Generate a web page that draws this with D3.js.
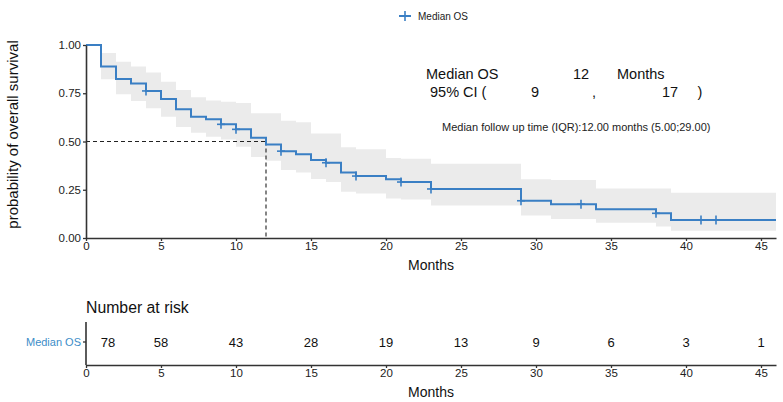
<!DOCTYPE html>
<html>
<head>
<meta charset="utf-8">
<script src="https://cdn.jsdelivr.net/npm/d3@7"></script>
<style>
  html, body { margin: 0; padding: 0; background: #fff; }
  svg { display: block; font-family: "Liberation Sans", Arial, Helvetica, sans-serif; }
</style>
</head>
<body>
<svg id="chart" width="783" height="402"></svg>
<script>
// ---- data ----
const stepTimes = [0, 1, 2, 3, 4, 5, 6, 7, 8, 9, 10, 11, 12, 13, 14, 15, 16, 17, 18, 20, 21, 23, 29, 31, 34, 38, 39];
const survival  = [1, 0.888, 0.824, 0.80, 0.762, 0.72, 0.667, 0.628, 0.615, 0.589, 0.563, 0.52, 0.485, 0.45, 0.434, 0.404, 0.39, 0.34, 0.321, 0.304, 0.29, 0.254, 0.193, 0.175, 0.149, 0.128, 0.093];
const upperCI   = [1, 0.958, 0.913, 0.888, 0.858, 0.81, 0.767, 0.729, 0.712, 0.706, 0.70, 0.646, 0.646, 0.608, 0.60, 0.542, 0.542, 0.47, 0.46, 0.415, 0.41, 0.385, 0.304, 0.30, 0.257, 0.257, 0.235];
const lowerCI   = [1, 0.822, 0.745, 0.71, 0.672, 0.628, 0.575, 0.545, 0.525, 0.51, 0.473, 0.42, 0.40, 0.352, 0.34, 0.306, 0.29, 0.24, 0.23, 0.205, 0.20, 0.168, 0.116, 0.098, 0.079, 0.059, 0.038];
const endTime = 46;
const censorTimes = [4, 9, 10, 13, 16, 18, 21, 23, 29, 33, 38, 41, 42];
const medianTime = 12;
const xTicks = [0, 5, 10, 15, 20, 25, 30, 35, 40, 45];
const yTicks = [0, 0.25, 0.5, 0.75, 1];
const riskTimes = [0, 5, 10, 15, 20, 25, 30, 35, 40, 45];
const riskCounts = [78, 58, 43, 28, 19, 13, 9, 6, 3, 1];
const seriesName = "Median OS";

// ---- layout ----
const svg = d3.select("#chart");
const blue = "#3a7fc4";
const axisCol = "#333";
const x = d3.scaleLinear().domain([0, endTime]).range([86, 776]);
const y = d3.scaleLinear().domain([0, 1]).range([238, 45]);

const pts = stepTimes.map((t, i) => ({t, s: survival[i], u: upperCI[i], l: lowerCI[i]}));
pts.push({t: endTime, s: survival[survival.length-1], u: upperCI[upperCI.length-1], l: lowerCI[lowerCI.length-1]});

// CI band
const area = d3.area().curve(d3.curveStepAfter)
  .x(d => x(d.t)).y0(d => y(d.l)).y1(d => y(d.u));
svg.append("path").datum(pts).attr("d", area).attr("fill", "#ebebeb");

// dashed median lines
svg.append("line").attr("x1", x(0)).attr("x2", x(medianTime)).attr("y1", y(0.5)).attr("y2", y(0.5))
  .attr("stroke", "#222").attr("stroke-width", 1.1).attr("stroke-dasharray", "4,3");
svg.append("line").attr("x1", x(medianTime)).attr("x2", x(medianTime)).attr("y1", y(0.5)).attr("y2", y(0))
  .attr("stroke", "#222").attr("stroke-width", 1.1).attr("stroke-dasharray", "4,3");

// survival curve
const line = d3.line().curve(d3.curveStepAfter).x(d => x(d.t)).y(d => y(d.s));
svg.append("path").datum(pts).attr("d", line).attr("fill", "none")
  .attr("stroke", blue).attr("stroke-width", 2);

// censor marks
function survAt(t) {
  let s = 1;
  for (let i = 0; i < stepTimes.length; i++) if (stepTimes[i] <= t) s = survival[i];
  return s;
}
const cg = svg.append("g").attr("stroke", blue).attr("stroke-width", 1.6);
censorTimes.forEach(t => {
  const cx = x(t), cy = y(survAt(t));
  cg.append("line").attr("x1", cx - 4).attr("x2", cx + 4).attr("y1", cy).attr("y2", cy);
  cg.append("line").attr("x1", cx).attr("x2", cx).attr("y1", cy - 4.5).attr("y2", cy + 4.5);
});

// axes
function styleAxis(g) {
  g.selectAll("path, line").attr("stroke", axisCol).attr("stroke-width", 1.3);
  g.select(".domain").attr("stroke-width", 1.6);
  g.selectAll("text").attr("fill", "#222").style("font-size", "11.5px");
}
const yAxis = svg.append("g").attr("transform", `translate(${x(0)},0)`)
  .call(d3.axisLeft(y).tickValues(yTicks).tickFormat(d3.format(".2f")).tickSize(3).tickSizeOuter(0).tickPadding(2));
styleAxis(yAxis);
const xAxis = svg.append("g").attr("transform", `translate(0,${y(0)})`)
  .call(d3.axisBottom(x).tickValues(xTicks).tickSize(3).tickSizeOuter(0).tickPadding(1));
styleAxis(xAxis);

svg.append("text").attr("transform", `translate(18,${(y(0)+y(1))/2 - 7}) rotate(-90)`)
  .attr("text-anchor", "middle").style("font-size", "15px").attr("fill", "#111")
  .text("probability of overall survival");
svg.append("text").attr("x", 431).attr("y", 270).attr("text-anchor", "middle")
  .style("font-size", "14px").attr("fill", "#111").text("Months");

// legend
svg.append("line").attr("x1", 399).attr("x2", 411).attr("y1", 16).attr("y2", 16).attr("stroke", blue).attr("stroke-width", 2);
svg.append("line").attr("x1", 405).attr("x2", 405).attr("y1", 11).attr("y2", 21).attr("stroke", blue).attr("stroke-width", 1.6);
svg.append("text").attr("x", 418).attr("y", 20).style("font-size", "10px").attr("fill", "#222").text(seriesName);

// annotations
const ann = [
  {x: 426, y: 79, t: "Median OS", a: "start"},
  {x: 581, y: 79, t: "12", a: "middle"},
  {x: 617, y: 79, t: "Months", a: "start"},
  {x: 430, y: 97, t: "95% CI (", a: "start"},
  {x: 535, y: 97, t: "9", a: "middle"},
  {x: 594, y: 97, t: ",", a: "middle"},
  {x: 670, y: 97, t: "17", a: "middle"},
  {x: 700, y: 97, t: ")", a: "middle"}
];
ann.forEach(d => svg.append("text").attr("x", d.x).attr("y", d.y).attr("text-anchor", d.a)
  .style("font-size", "14.5px").attr("fill", "#111").text(d.t));
svg.append("text").attr("x", 442).attr("y", 131).style("font-size", "11px").attr("fill", "#222")
  .text("Median follow up time (IQR):12.00 months (5.00;29.00)");

// ---- risk table ----
svg.append("text").attr("x", 86).attr("y", 313).style("font-size", "15.8px").attr("fill", "#111").text("Number at risk");
const ry = d3.scalePoint().domain([seriesName]).range([342, 342]);
const rAxisY = svg.append("g").attr("transform", `translate(${x(0)},0)`);
rAxisY.append("line").attr("x1", 0).attr("x2", 0).attr("y1", 322).attr("y2", 365).attr("stroke", axisCol).attr("stroke-width", 1.6);
rAxisY.append("line").attr("x1", -3).attr("x2", 0).attr("y1", ry(seriesName)).attr("y2", ry(seriesName)).attr("stroke", axisCol).attr("stroke-width", 1.3);
svg.append("text").attr("x", 81).attr("y", ry(seriesName) + 4).attr("text-anchor", "end")
  .style("font-size", "11px").attr("fill", "#3c8dc8").text(seriesName);
riskCounts.forEach((c, i) => {
  const px = i === 0 ? x(riskTimes[i]) + 22 : x(riskTimes[i]);
  svg.append("text").attr("x", px).attr("y", ry(seriesName) + 5).attr("text-anchor", "middle")
    .style("font-size", "13px").attr("fill", "#111").text(c);
});
const rxAxis = svg.append("g").attr("transform", "translate(0,365)")
  .call(d3.axisBottom(x).tickValues(xTicks).tickSize(3).tickSizeOuter(0).tickPadding(1));
styleAxis(rxAxis);
svg.append("text").attr("x", 431).attr("y", 397).attr("text-anchor", "middle")
  .style("font-size", "14px").attr("fill", "#111").text("Months");
</script>
</body>
</html>
